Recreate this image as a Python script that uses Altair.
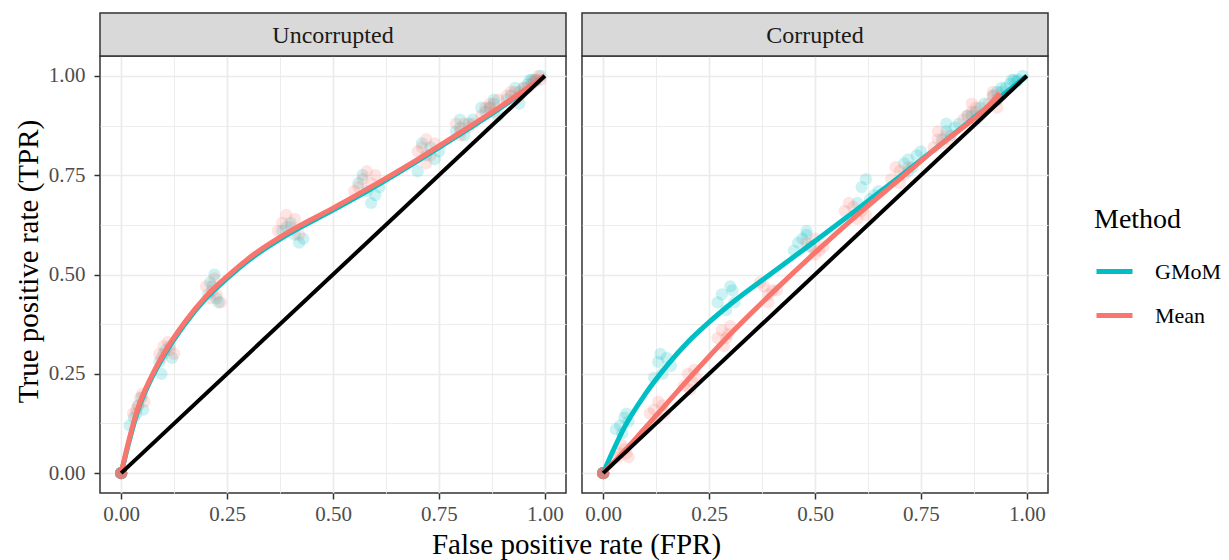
import altair as alt
import pandas as pd

FONT = "Liberation Serif"
METHODS = ["GMoM", "Mean"]
COLORS = ["#00BFC4", "#F8766D"]
PANELS = ["Uncorrupted", "Corrupted"]

# ROC points from the simulation runs (FPR, TPR)
unc_gmom_pts = [
    (0, 0), (0, 0), (0, 0), (0, 0), (0, 0), (0, 0), (0, 0), (0, 0),
    (0.030, 0.14), (0.040, 0.17), (0.048, 0.19), (0.020, 0.12), (0.052, 0.16), (0.036, 0.15),
    (0.090, 0.28), (0.105, 0.31), (0.115, 0.32), (0.095, 0.25), (0.120, 0.29), (0.100, 0.30),
    (0.210, 0.48), (0.220, 0.50), (0.225, 0.44), (0.205, 0.45), (0.230, 0.43), (0.215, 0.47),
    (0.390, 0.62), (0.410, 0.60), (0.420, 0.58), (0.400, 0.63), (0.430, 0.59), (0.380, 0.61),
    (0.580, 0.71), (0.600, 0.70), (0.590, 0.68), (0.560, 0.73), (0.610, 0.72), (0.570, 0.75),
    (0.720, 0.80), (0.740, 0.79), (0.710, 0.83), (0.730, 0.82), (0.700, 0.76), (0.750, 0.81),
    (0.800, 0.87), (0.820, 0.88), (0.790, 0.86), (0.810, 0.85), (0.830, 0.89), (0.800, 0.89),
    (0.860, 0.91), (0.880, 0.93), (0.870, 0.92), (0.890, 0.90), (0.850, 0.92), (0.880, 0.94),
    (0.920, 0.95), (0.940, 0.96), (0.930, 0.97), (0.950, 0.97), (0.910, 0.94), (0.940, 0.93),
    (0.970, 0.99), (0.980, 0.99), (0.960, 0.98), (0.990, 1.00), (0.975, 0.985), (0.965, 0.99),
]
unc_mean_pts = [
    (0, 0), (0, 0), (0, 0), (0, 0), (0, 0), (0, 0), (0, 0), (0, 0),
    (0.035, 0.16), (0.045, 0.19), (0.050, 0.20), (0.028, 0.15), (0.040, 0.17), (0.055, 0.18),
    (0.100, 0.32), (0.110, 0.33), (0.090, 0.30), (0.115, 0.31), (0.095, 0.29), (0.125, 0.30),
    (0.215, 0.46), (0.220, 0.49), (0.235, 0.43), (0.200, 0.47), (0.225, 0.45), (0.210, 0.44),
    (0.390, 0.65), (0.400, 0.62), (0.370, 0.61), (0.410, 0.64), (0.380, 0.63), (0.420, 0.60),
    (0.570, 0.74), (0.590, 0.73), (0.550, 0.71), (0.600, 0.75), (0.580, 0.76), (0.560, 0.72),
    (0.710, 0.82), (0.720, 0.84), (0.730, 0.80), (0.700, 0.81), (0.740, 0.83), (0.720, 0.78),
    (0.810, 0.88), (0.800, 0.86), (0.820, 0.87), (0.790, 0.88), (0.830, 0.88), (0.800, 0.85),
    (0.870, 0.93), (0.860, 0.92), (0.880, 0.91), (0.890, 0.94), (0.850, 0.90), (0.870, 0.92),
    (0.930, 0.96), (0.920, 0.96), (0.940, 0.95), (0.950, 0.97), (0.910, 0.95), (0.930, 0.94),
    (0.970, 0.98), (0.980, 0.99), (0.985, 1.00), (0.960, 0.97), (0.975, 0.99), (0.990, 0.99),
]
cor_gmom_pts = [
    (0, 0), (0, 0), (0, 0), (0, 0), (0, 0), (0, 0), (0, 0), (0, 0),
    (0.040, 0.12), (0.050, 0.14), (0.060, 0.13), (0.030, 0.11), (0.055, 0.15), (0.045, 0.10),
    (0.130, 0.28), (0.150, 0.29), (0.140, 0.25), (0.120, 0.24), (0.160, 0.27), (0.135, 0.30),
    (0.280, 0.45), (0.300, 0.47), (0.310, 0.43), (0.290, 0.41), (0.270, 0.43), (0.305, 0.46),
    (0.470, 0.59), (0.480, 0.61), (0.460, 0.58), (0.490, 0.57), (0.450, 0.56), (0.480, 0.60),
    (0.610, 0.72), (0.630, 0.69), (0.620, 0.74), (0.640, 0.70), (0.600, 0.68), (0.650, 0.71),
    (0.720, 0.79), (0.740, 0.80), (0.730, 0.77), (0.710, 0.78), (0.750, 0.81), (0.720, 0.76),
    (0.810, 0.86), (0.830, 0.87), (0.820, 0.85), (0.800, 0.84), (0.840, 0.88), (0.810, 0.88),
    (0.880, 0.91), (0.870, 0.90), (0.890, 0.92), (0.900, 0.93), (0.860, 0.90), (0.880, 0.89),
    (0.930, 0.96), (0.940, 0.96), (0.920, 0.95), (0.950, 0.97), (0.930, 0.94), (0.940, 0.97),
    (0.970, 0.99), (0.980, 0.99), (0.960, 0.98), (0.990, 1.00), (0.975, 0.985), (0.965, 0.99),
]
cor_mean_pts = [
    (0, 0), (0, 0), (0, 0), (0, 0), (0, 0), (0, 0), (0, 0), (0, 0),
    (0.040, 0.05), (0.050, 0.06), (0.060, 0.04), (0.045, 0.07), (0.055, 0.05), (0.035, 0.04),
    (0.120, 0.16), (0.130, 0.14), (0.140, 0.17), (0.130, 0.18), (0.110, 0.15), (0.145, 0.15),
    (0.200, 0.25), (0.210, 0.23), (0.220, 0.24), (0.190, 0.22), (0.215, 0.26), (0.205, 0.21),
    (0.280, 0.36), (0.290, 0.34), (0.300, 0.37), (0.285, 0.32), (0.295, 0.35), (0.270, 0.34),
    (0.380, 0.47), (0.390, 0.45), (0.400, 0.46), (0.370, 0.48), (0.390, 0.43), (0.410, 0.46),
    (0.490, 0.57), (0.500, 0.59), (0.510, 0.56), (0.480, 0.58), (0.520, 0.57), (0.500, 0.55),
    (0.590, 0.67), (0.610, 0.66), (0.600, 0.64), (0.580, 0.68), (0.620, 0.65), (0.570, 0.66),
    (0.700, 0.76), (0.690, 0.77), (0.710, 0.75), (0.680, 0.74), (0.720, 0.77), (0.700, 0.73),
    (0.790, 0.84), (0.810, 0.85), (0.800, 0.83), (0.780, 0.82), (0.820, 0.84), (0.790, 0.86),
    (0.870, 0.91), (0.860, 0.90), (0.880, 0.92), (0.890, 0.90), (0.850, 0.89), (0.870, 0.93),
    (0.920, 0.95), (0.930, 0.94), (0.910, 0.93), (0.940, 0.95), (0.920, 0.96), (0.930, 0.92),
]

# Smoothed ROC curves (FPR, TPR)
unc_gmom_curve = [
    (0.0, 0.0), (0.02, 0.085), (0.04, 0.16), (0.07, 0.235), (0.1, 0.295), (0.15, 0.375),
    (0.2, 0.44), (0.25, 0.49), (0.3, 0.535), (0.4, 0.605), (0.5, 0.662), (0.6, 0.722),
    (0.7, 0.786), (0.8, 0.853), (0.9, 0.923), (1.0, 1.0),
]
unc_mean_curve = [
    (0.0, 0.0), (0.02, 0.09), (0.04, 0.165), (0.07, 0.24), (0.1, 0.30), (0.15, 0.38),
    (0.2, 0.445), (0.25, 0.495), (0.3, 0.54), (0.4, 0.61), (0.5, 0.667), (0.6, 0.727),
    (0.7, 0.79), (0.8, 0.857), (0.9, 0.926), (1.0, 1.0),
]
cor_gmom_curve = [
    (0.0, 0.0), (0.025, 0.06), (0.05, 0.115), (0.1, 0.20), (0.15, 0.27), (0.2, 0.33),
    (0.25, 0.38), (0.3, 0.425), (0.4, 0.505), (0.5, 0.584), (0.6, 0.664), (0.7, 0.746),
    (0.8, 0.83), (0.9, 0.915), (1.0, 1.0),
]
cor_mean_curve = [
    (0.0, 0.0), (0.05, 0.055), (0.1, 0.115), (0.15, 0.175), (0.2, 0.235), (0.3, 0.35),
    (0.4, 0.455), (0.5, 0.555), (0.6, 0.65), (0.7, 0.74), (0.8, 0.83), (0.9, 0.915),
    (0.937, 0.955),
]

chance_line = [(0.0, 0.0), (1.0, 1.0)]

GRID_VALUES = [0, 0.125, 0.25, 0.375, 0.5, 0.625, 0.75, 0.875, 1.0]
MAJOR = "datum.value % 0.25 === 0"

W, H, STRIP_H = 466, 437, 43


def frame(pairs, method):
    return pd.DataFrame({"fpr": [p[0] for p in pairs], "tpr": [p[1] for p in pairs], "Method": method})


series = {
    "Uncorrupted": (unc_gmom_pts, unc_mean_pts, unc_gmom_curve, unc_mean_curve),
    "Corrupted": (cor_gmom_pts, cor_mean_pts, cor_gmom_curve, cor_mean_curve),
}

scale = alt.Scale(domain=[-0.05, 1.05], nice=False, zero=False)
color = alt.Color(
    "Method:N",
    scale=alt.Scale(domain=METHODS, range=COLORS),
    legend=alt.Legend(
        title="Method",
        orient="none",
        legendX=994,
        legendY=150,
        symbolType="stroke",
        symbolStrokeWidth=5,
        symbolSize=1296,
        symbolOpacity=1,
        rowPadding=12,
        titlePadding=17,
        labelOffset=20,
    ),
)


def axis(first, orient):
    common = dict(
        values=GRID_VALUES,
        labelExpr=f"{MAJOR} ? format(datum.value, '.2f') : ''",
        gridWidth={"condition": {"test": MAJOR, "value": 1.7}, "value": 0.9},
        tickOpacity={"condition": {"test": MAJOR, "value": 1}, "value": 0},
        tickSize=6,
        tickWidth=1.5,
    )
    if orient == "x":
        if first:
            return alt.Axis(title="False positive rate (FPR)", titleX=476, titleY=60,
                            titleBaseline="alphabetic", titleAlign="center",
                            labelPadding=4, **common)
        return alt.Axis(title=None, labelPadding=4, **common)
    if first:
        return alt.Axis(title="True positive rate (TPR)", titleX=-63, titleY=205,
                        titleAngle=270, titleBaseline="alphabetic", titleAlign="center",
                        labelPadding=9, **common)
    return alt.Axis(title=None, labels=False, ticks=False, **common)


def panel(name, first):
    g_pts, m_pts, g_curve, m_curve = series[name]
    pts = pd.concat([frame(g_pts, "GMoM"), frame(m_pts, "Mean")], ignore_index=True)
    curves = pd.concat([frame(g_curve, "GMoM"), frame(m_curve, "Mean")], ignore_index=True)
    diag = frame(chance_line, "chance")

    x = alt.X("fpr:Q", scale=scale, axis=axis(first, "x"))
    y = alt.Y("tpr:Q", scale=scale, axis=axis(first, "y"))

    points = alt.Chart(pts).mark_circle(size=150, opacity=0.2).encode(x=x, y=y, color=color)
    smooth = alt.Chart(curves).mark_line(strokeWidth=5, interpolate="monotone").encode(
        x=x, y=y, color=color, order=alt.value(0)
    )
    ref = alt.Chart(diag).mark_line(color="black", strokeWidth=4).encode(x="fpr:Q", y="tpr:Q")

    strip_df = pd.DataFrame({"label": [name]})
    strip_box = alt.Chart(strip_df).mark_rect(
        fill="#D9D9D9", stroke="#333333", strokeWidth=1.5
    ).encode(x=alt.value(0), x2=alt.value(W), y=alt.value(-STRIP_H), y2=alt.value(0))
    strip_text = alt.Chart(strip_df).mark_text(
        font=FONT, fontSize=24, color="#1A1A1A", baseline="middle", align="center"
    ).encode(x=alt.value(W / 2), y=alt.value(-STRIP_H / 2 + 1), text="label:N")

    return alt.layer(points, smooth, ref, strip_box, strip_text).properties(width=W, height=H)


chart = (
    alt.hconcat(panel("Uncorrupted", True), panel("Corrupted", False), spacing=16, bounds="flush")
    .resolve_scale(color="shared")
    .resolve_legend(color="shared")
    .properties(padding={"left": 13, "top": 11, "right": 5, "bottom": 5}, background="white")
    .configure_view(stroke="#333333", strokeWidth=1.5)
    .configure_axis(
        domain=False,
        gridColor="#EBEBEB",
        tickColor="#333333",
        labelColor="#4D4D4D",
        labelFont=FONT,
        labelFontSize=21,
        titleFont=FONT,
        titleFontSize=29,
        titleFontWeight="normal",
        titleColor="#000000",
    )
    .configure_legend(
        titleFont=FONT,
        titleFontSize=28,
        titleFontWeight="normal",
        titleColor="#000000",
        labelFont=FONT,
        labelFontSize=22,
        labelColor="#000000",
    )
)

chart.save("out.html", embed_options={"renderer": "svg", "actions": False})
